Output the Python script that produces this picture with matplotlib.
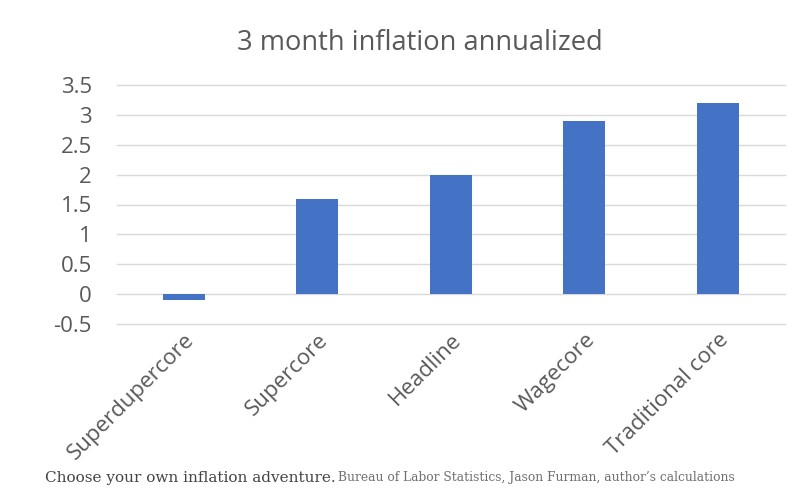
import numpy as np
import matplotlib.pyplot as plt

categories = ["Superdupercore", "Supercore", "Headline", "Wagecore", "Traditional core"]
values = [-0.1, 1.6, 2.0, 2.9, 3.2]
yticks = [-0.5, 0, 0.5, 1, 1.5, 2, 2.5, 3, 3.5]
ytick_labels = ["-0.5", "0", "0.5", "1", "1.5", "2", "2.5", "3", "3.5"]

plt.rcParams["font.family"] = ["Open Sans", "DejaVu Sans"]
grey = "#595959"
serif = ["DejaVu Serif", "Liberation Serif"]

fig = plt.figure(figsize=(8, 5), dpi=100)
ax = fig.add_axes([0.146, 0.3524, 0.835, 0.4772])

x = np.arange(len(categories))
ax.bar(x, values, width=0.315, color="#4472C4", zorder=3)

ax.set_xlim(-0.5, len(categories) - 0.5)
ax.set_ylim(-0.5, 3.5)
ax.set_yticks(yticks)
ax.set_yticklabels(ytick_labels)
ax.set_xticks(x)
ax.set_xticklabels(categories, rotation=45, ha="right", rotation_mode="anchor")
ax.tick_params(axis="both", length=0, labelsize=16, colors=grey)
ax.tick_params(axis="x", pad=4)
ax.tick_params(axis="y", pad=18)
ax.yaxis.grid(True, color="#d9d9d9", linewidth=1, zorder=0)
for gl in ax.get_ygridlines():
    gl.set_clip_on(False)
for s in ax.spines.values():
    s.set_visible(False)

fig.text(0.525, 0.914, "3 month inflation annualized", ha="center", va="center",
         fontsize=19.6, color=grey)

fig.text(0.056, 0.044, "Choose your own inflation adventure.", ha="left", va="center",
         fontsize=11, color="#444444", family=serif)
fig.text(0.423, 0.044, "Bureau of Labor Statistics, Jason Furman, author\u2019s calculations",
         ha="left", va="center", fontsize=8.8, color="#707070", family=serif)

fig.savefig("out.png", dpi=100)
